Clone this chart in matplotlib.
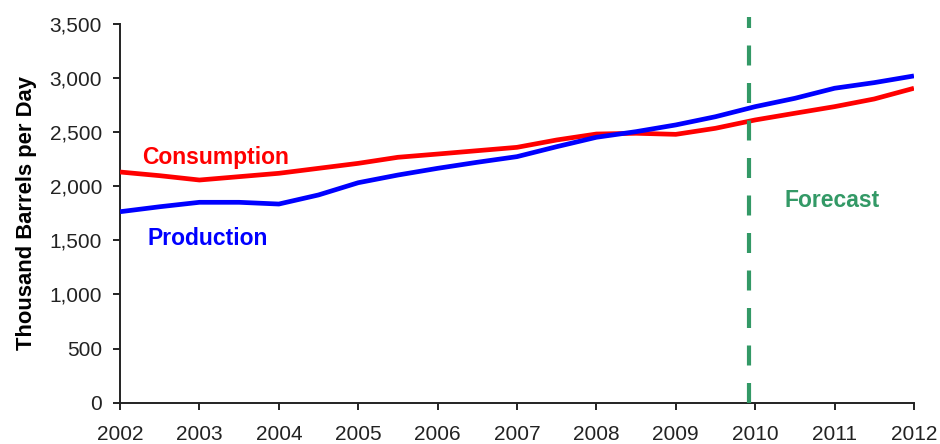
import numpy as np
import matplotlib
matplotlib.use('Agg')
import matplotlib.pyplot as plt
from matplotlib.ticker import FuncFormatter

plt.rcParams['font.family'] = ['Liberation Sans', 'DejaVu Sans']

# half-year points, thousand barrels per day
years = [2002.0, 2002.5, 2003.0, 2003.5, 2004.0, 2004.5, 2005.0, 2005.5,
         2006.0, 2006.5, 2007.0, 2007.5, 2008.0, 2008.5, 2009.0, 2009.5,
         2010.0, 2010.5, 2011.0, 2011.5, 2012.0]
consumption = [2132, 2098, 2058, 2089, 2120, 2166, 2212, 2268, 2298, 2329,
               2360, 2428, 2483, 2490, 2480, 2536, 2613, 2675, 2736, 2807,
               2906]
production = [1765, 1811, 1852, 1852, 1836, 1920, 2033, 2104, 2166, 2222,
              2274, 2366, 2453, 2505, 2567, 2643, 2736, 2813, 2906, 2958,
              3020]

forecast_start = 2009.92
year_ticks = np.arange(2002, 2013, 1)
value_ticks = np.arange(0, 3501, 500)

red = '#ff0000'
blue = '#0000ff'
green = '#339966'

fig = plt.figure(figsize=(9.4, 4.44), dpi=100)
ax = fig.add_axes([0.1277, 0.093, 0.8446, 0.853])

ax.plot(years, consumption, color=red, linewidth=3.4, solid_capstyle='butt', zorder=3)
ax.plot(years, production, color=blue, linewidth=3.4, solid_capstyle='butt', zorder=3)

ax.vlines(forecast_start, 0, 3560, colors=green, linewidth=3.0,
          linestyles=(0, (4.8, 4.2)), clip_on=False, zorder=4)

ax.text(2002.28, 2262, 'Consumption', color=red, fontsize=16.5,
        fontweight='bold', va='center', ha='left')
ax.text(2002.35, 1522, 'Production', color=blue, fontsize=16.5,
        fontweight='bold', va='center', ha='left')
ax.text(2010.37, 1871, 'Forecast', color=green, fontsize=16.5,
        fontweight='bold', va='center', ha='left')

ax.set_xlim(2002, 2012)
ax.set_ylim(0, 3500)
ax.set_xticks(year_ticks)
ax.set_xticklabels([str(y) for y in year_ticks])
ax.set_yticks(value_ticks)
ax.yaxis.set_major_formatter(FuncFormatter(lambda v, p: '{:,.0f}'.format(v)))

ax.spines['top'].set_visible(False)
ax.spines['right'].set_visible(False)
for side in ['left', 'bottom']:
    ax.spines[side].set_linewidth(1.4)
    ax.spines[side].set_color('#222222')

ax.tick_params(axis='both', direction='out', length=5, width=1.4,
               color='#222222', labelsize=15, labelcolor='#222222')
ax.tick_params(axis='y', pad=8)
ax.tick_params(axis='x', pad=11)

ax.set_ylabel('Thousand Barrels per Day', fontsize=15.8, fontweight='bold',
              labelpad=9)

plt.savefig('out.png', dpi=100)
